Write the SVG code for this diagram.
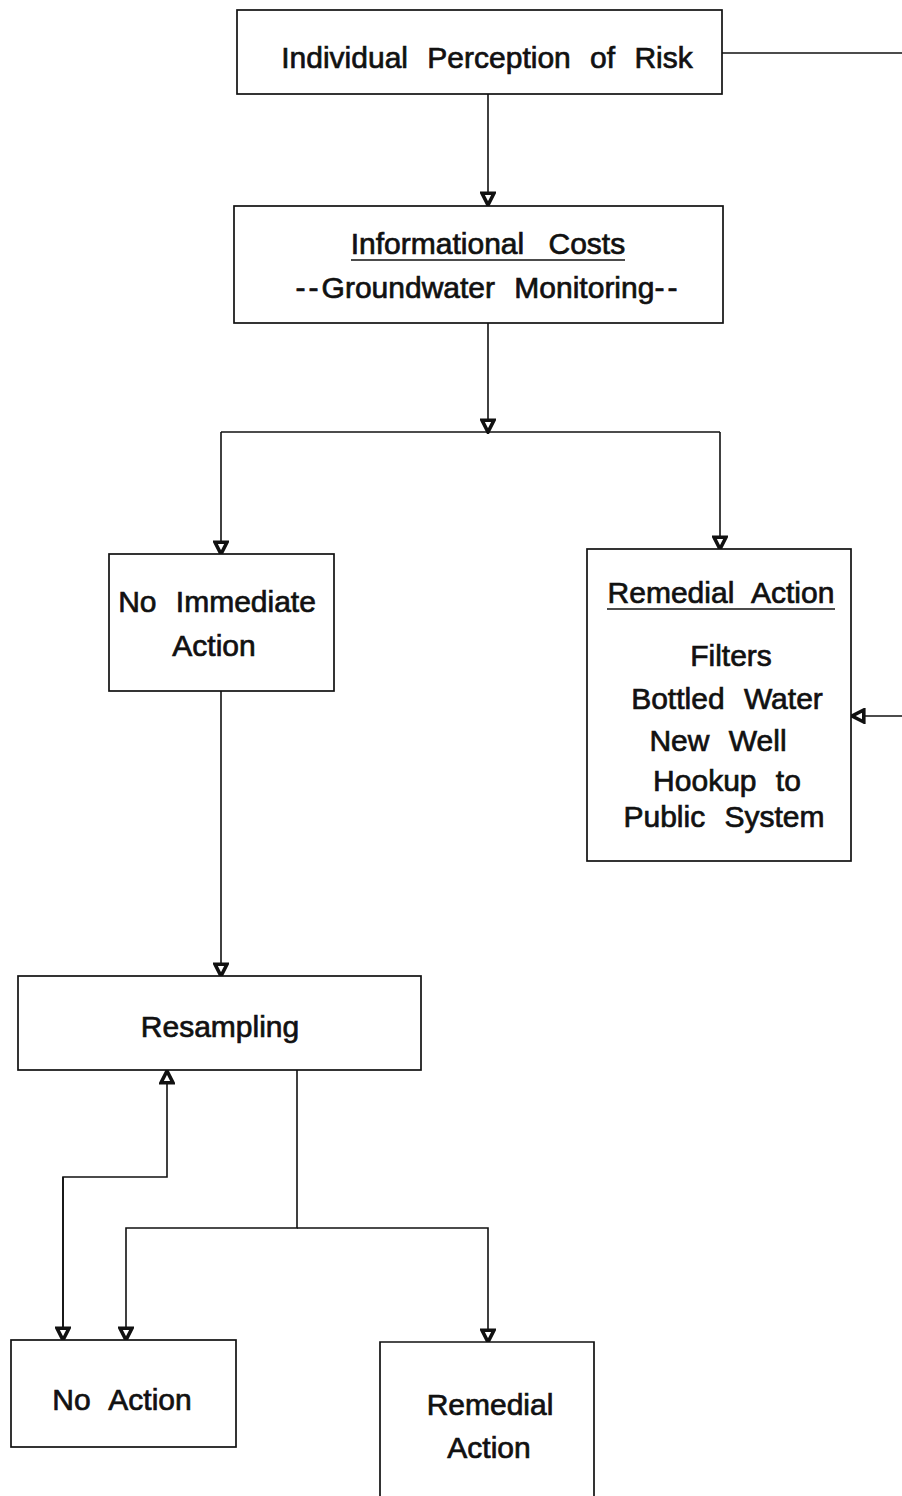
<svg xmlns="http://www.w3.org/2000/svg" width="902" height="1496" viewBox="0 0 902 1496">
<defs>
<style>
.box{fill:#fff;stroke:#111;stroke-width:1.7}
.ln{fill:none;stroke:#111;stroke-width:1.6}
.t{font-family:"Liberation Sans",Arial,sans-serif;font-size:30px;fill:#111;stroke:#111;stroke-width:0.7;text-anchor:middle;word-spacing:11px}
.d{letter-spacing:3px}
.u{fill:none;stroke:#111;stroke-width:1.4}
</style>
<marker id="ah" viewBox="0 0 16 16" refX="14" refY="8" markerWidth="16" markerHeight="16" markerUnits="userSpaceOnUse" orient="auto">
<path d="M2.2,2 L14,8 L2.2,14 Z" fill="#fff" stroke="#111" stroke-width="3.6" stroke-linejoin="miter"/>
</marker>
</defs>
<rect width="902" height="1496" fill="#fff"/>
<g id="connectors">
<path class="ln" d="M722,53 H902"/>
<path class="ln" d="M488,94 V205" marker-end="url(#ah)"/>
<path class="ln" d="M488,323 V432" marker-end="url(#ah)"/>
<path class="ln" d="M221,432 H720"/>
<path class="ln" d="M221,432 V554" marker-end="url(#ah)"/>
<path class="ln" d="M720,432 V549" marker-end="url(#ah)"/>
<path class="ln" d="M902,716 H852" marker-end="url(#ah)"/>
<path class="ln" d="M221,691 V976" marker-end="url(#ah)"/>
<path class="ln" d="M297,1070 V1228 H126 V1340" marker-end="url(#ah)"/>
<path class="ln" d="M297,1228 H488 V1342" marker-end="url(#ah)"/>
<path class="ln" d="M63,1340 V1177 H167 V1071" marker-end="url(#ah)"/>
<path class="ln" d="M63,1177 V1340" marker-end="url(#ah)"/>
</g>
<g id="risk">
<rect class="box" x="237" y="10" width="485" height="84"/>
<text class="t" x="487" y="68">Individual Perception of Risk</text>
</g>
<g id="info">
<rect class="box" x="234" y="206" width="489" height="117"/>
<text class="t" x="488" y="254" style="word-spacing:16px">Informational Costs</text>
<path class="u" d="M351,260 H625"/>
<text class="t" x="488" y="298"><tspan class="d">--</tspan>Groundwater Monitoring<tspan class="d">--</tspan></text>
</g>
<g id="noimmediate">
<rect class="box" x="109" y="554" width="225" height="137"/>
<text class="t" x="217" y="612">No Immediate</text>
<text class="t" x="214" y="656">Action</text>
</g>
<g id="remedial1">
<rect class="box" x="587" y="549" width="264" height="312"/>
<text class="t" x="721" y="603" style="word-spacing:10px">Remedial Action</text>
<path class="u" d="M607,609 H835"/>
<text class="t" x="731" y="666">Filters</text>
<text class="t" x="727" y="709">Bottled Water</text>
<text class="t" x="718" y="751">New Well</text>
<text class="t" x="727" y="791">Hookup to</text>
<text class="t" x="724" y="827">Public System</text>
</g>
<g id="resampling">
<rect class="box" x="18" y="976" width="403" height="94"/>
<text class="t" x="220" y="1037">Resampling</text>
</g>
<g id="noaction">
<rect class="box" x="11" y="1340" width="225" height="107"/>
<text class="t" x="122" y="1410">No Action</text>
</g>
<g id="remedial2">
<path class="box" d="M380,1500 V1342 H594 V1500"/>
<text class="t" x="490" y="1415">Remedial</text>
<text class="t" x="489" y="1458">Action</text>
</g>
</svg>
